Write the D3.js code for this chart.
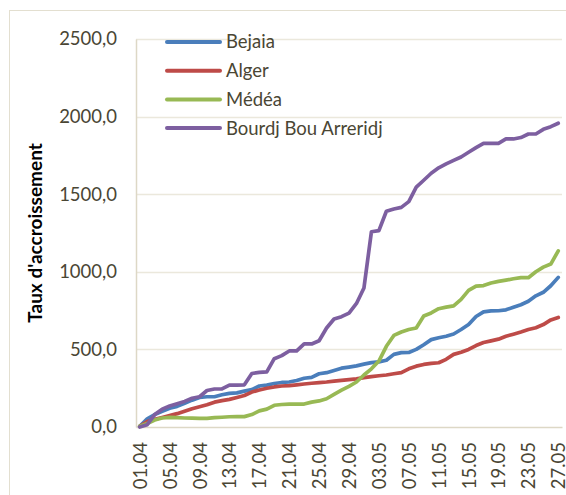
<!DOCTYPE html>
<html>
<head>
<meta charset="utf-8">
<script src="https://cdn.jsdelivr.net/npm/d3@7"></script>
<style>
  body { margin: 0; background: #fff; }
  svg { display: block; font-family: Lato, "Open Sans", sans-serif; }
</style>
</head>
<body>
<svg width="566" height="495"></svg>
<script>
// daily dates, 01.04 -> 27.05
var dates = [
  "01.04","02.04","03.04","04.04","05.04","06.04","07.04","08.04","09.04","10.04",
  "11.04","12.04","13.04","14.04","15.04","16.04","17.04","18.04","19.04","20.04",
  "21.04","22.04","23.04","24.04","25.04","26.04","27.04","28.04","29.04","30.04",
  "01.05","02.05","03.05","04.05","05.05","06.05","07.05","08.05","09.05","10.05",
  "11.05","12.05","13.05","14.05","15.05","16.05","17.05","18.05","19.05","20.05",
  "21.05","22.05","23.05","24.05","25.05","26.05","27.05"
];

var tickLabels = ["01.04","05.04","09.04","13.04","17.04","21.04","25.04","29.04",
  "03.05","07.05","11.05","15.05","19.05","23.05","27.05"];

var yTicks = [0, 500, 1000, 1500, 2000, 2500];

var bejaia = [5,53,80,101,121,133,153,173,190,195,195,208,217,220,231,241,264,270,280,287,
  290,300,314,320,343,350,364,379,386,394,405,415,420,430,468,479,480,500,530,563,
  575,585,599,628,660,712,742,748,749,755,772,788,810,845,868,910,964];

var alger = [5,35,50,61,73,86,102,118,130,143,160,170,178,190,203,225,238,250,258,264,
  267,272,277,282,286,290,296,301,305,310,318,325,330,335,343,350,375,392,403,410,
  414,436,468,482,500,525,544,555,566,585,598,612,628,640,660,690,706];

var medea = [5,22,45,58,62,60,58,57,56,56,60,63,66,67,67,80,104,115,140,145,
  148,148,148,160,168,182,210,237,262,290,335,375,425,520,590,612,628,638,715,735,
  762,772,780,822,880,908,911,928,938,946,955,962,962,1000,1030,1050,1135];

var bba = [0,15,80,115,135,150,165,185,195,235,245,245,270,270,272,345,352,355,440,460,
  490,490,535,535,556,638,696,711,734,796,896,1258,1265,1390,1405,1415,1452,1545,1590,1635,
  1670,1695,1718,1740,1770,1800,1828,1828,1828,1856,1856,1865,1888,1888,1918,1935,1957];

var seriesNames = ["Bejaia", "Alger", "Médéa", "Bourdj Bou Arreridj"];
var seriesValues = [bejaia, alger, medea, bba];
var colors = ["#4a7ebb", "#be4b48", "#98b954", "#7d5fa0"];

var svg = d3.select("svg");
var textColor = "#4a4634";
var gridColor = "#ebe8dc";

var plot = {left: 136, right: 562, top: 39, bottom: 427};

// outer chart border
svg.append("rect")
    .attr("x", 9.5).attr("y", 10.5)
    .attr("width", 600).attr("height", 600)
    .attr("fill", "none")
    .attr("stroke", "#e3dfd0");

var x = d3.scalePoint()
    .domain(dates)
    .range([plot.left, plot.right])
    .padding(0.5);

var y = d3.scaleLinear()
    .domain([0, 2500])
    .range([plot.bottom, plot.top]);

var fmt = d3.formatLocale({decimal: ",", thousands: " ", grouping: [3], currency: ["", ""]}).format(".1f");

// gridlines
svg.append("g")
  .selectAll("line")
  .data(yTicks.filter(function(d) { return d > 0; }))
  .join("line")
    .attr("x1", plot.left).attr("x2", plot.right)
    .attr("y1", function(d) { return Math.round(y(d)) + 0.5; })
    .attr("y2", function(d) { return Math.round(y(d)) + 0.5; })
    .attr("stroke", gridColor)
    .attr("stroke-width", 1.5);

// y axis
var yAxis = svg.append("g")
    .attr("transform", "translate(" + plot.left + ",0)")
    .call(d3.axisLeft(y).tickValues(yTicks).tickSize(0).tickPadding(19).tickFormat(fmt));
yAxis.select(".domain").attr("stroke", "#ddd8c6").attr("stroke-width", 1.5);
yAxis.selectAll("text")
    .attr("fill", textColor)
    .style("font-size", "18.5px")
    .style("font-family", "Lato, sans-serif");

// x axis
var xAxis = svg.append("g")
    .attr("transform", "translate(0," + plot.bottom + ")")
    .call(d3.axisBottom(x).tickValues(tickLabels).tickSize(0));
xAxis.select(".domain").attr("stroke", "#ddd8c6").attr("stroke-width", 1.5);
xAxis.selectAll("text")
    .attr("fill", textColor)
    .style("font-size", "18.5px")
    .style("font-family", "Lato, sans-serif")
    .attr("text-anchor", "end")
    .attr("transform", "rotate(-90)")
    .attr("x", -15)
    .attr("y", 0)
    .attr("dy", "0.35em");

// y axis title
svg.append("text")
    .attr("transform", "translate(42,233) rotate(-90)")
    .attr("text-anchor", "middle")
    .attr("fill", "#000")
    .style("font-size", "19px")
    .style("font-weight", "bold")
    .text("Taux d'accroissement");

// lines
var line = d3.line()
    .x(function(d, i) { return x(dates[i]); })
    .y(function(d) { return y(d); });

svg.append("g")
  .selectAll("path")
  .data(seriesValues)
  .join("path")
    .attr("d", line)
    .attr("fill", "none")
    .attr("stroke", function(d, i) { return colors[i]; })
    .attr("stroke-width", 3.7)
    .attr("stroke-linejoin", "round")
    .attr("stroke-linecap", "round");

// legend
var legend = svg.append("g")
  .selectAll("g")
  .data(seriesNames)
  .join("g")
    .attr("transform", function(d, i) { return "translate(167," + (42 + i * 28.7) + ")"; });

legend.append("line")
    .attr("x1", 0).attr("x2", 53)
    .attr("stroke", function(d, i) { return colors[i]; })
    .attr("stroke-width", 4)
    .attr("stroke-linecap", "round");

legend.append("text")
    .attr("x", 59)
    .attr("dy", "0.35em")
    .attr("fill", textColor)
    .style("font-size", "18.5px")
    .text(function(d) { return d; });
</script>
</body>
</html>
